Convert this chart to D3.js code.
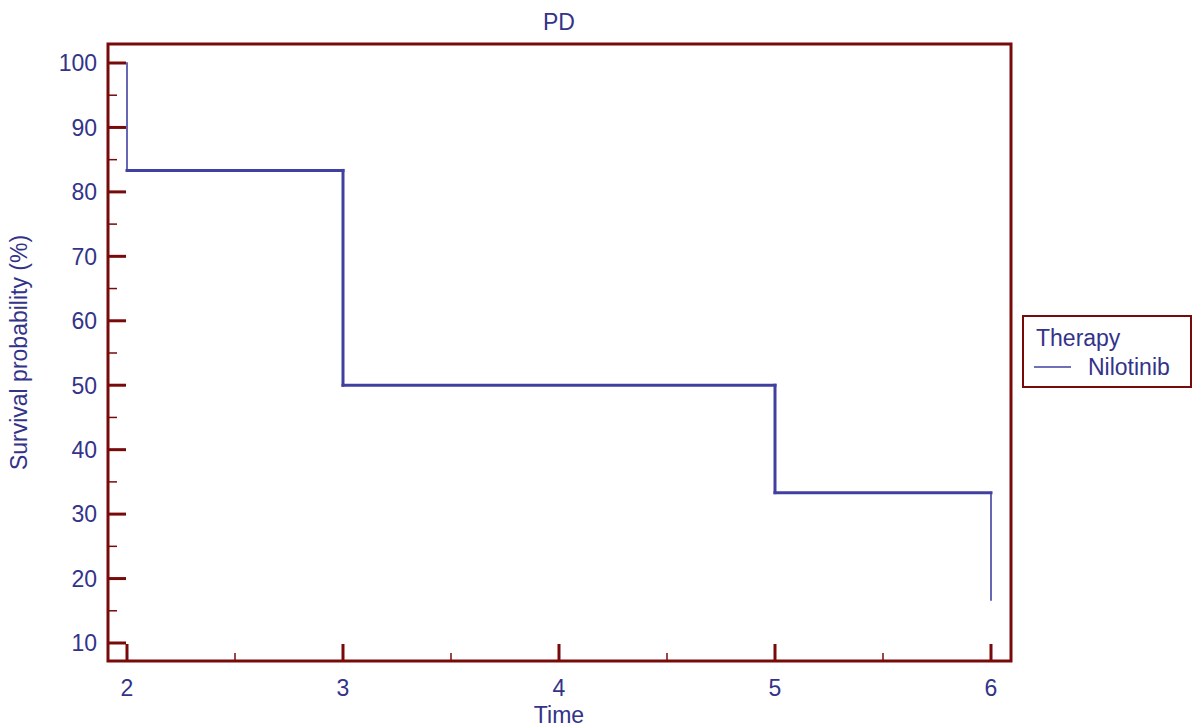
<!DOCTYPE html>
<html>
<head>
<meta charset="utf-8">
<script src="https://cdn.jsdelivr.net/npm/d3@7"></script>
<style>
  body { margin: 0; background: #fff; }
  svg { display: block; font-family: "Liberation Sans", Arial, sans-serif; }
</style>
</head>
<body>
<div id="chart"></div>
<script>
// Kaplan-Meier step data (time, survival %)
const times = [2, 2, 3, 5, 6];
const survival = [100, 83.33, 50, 33.33, 16.67];
const xTicks = [2, 3, 4, 5, 6];
const yTicks = [10, 20, 30, 40, 50, 60, 70, 80, 90, 100];
const seriesName = "Nilotinib";
const legendTitle = "Therapy";

const W = 1193, H = 728;
const frame = { left: 108, right: 1011, top: 44, bottom: 661 };
const frameColor = "#780a0a";
const textColor = "#33338a";
const lineColor = "#4040a0";
const fs = 23;

const svg = d3.select("#chart").append("svg")
  .attr("width", W).attr("height", H);

const x = d3.scaleLinear().domain([2, 6]).range([127, 991]);
const y = d3.scaleLinear().domain([10, 100]).range([643, 63]);

// build step segments
const segs = [];
for (let i = 1; i < times.length; i++) {
  if (times[i] !== times[i - 1]) {
    segs.push({ x1: times[i - 1], y1: survival[i - 1], x2: times[i], y2: survival[i - 1], thick: true });
  }
  const edge = (i === 1 || i === times.length - 1);
  segs.push({ x1: times[i], y1: survival[i - 1], x2: times[i], y2: survival[i], thick: !edge });
}

svg.append("g").selectAll("line").data(segs).join("line")
  .attr("x1", d => x(d.x1)).attr("x2", d => x(d.x2))
  .attr("y1", d => y(d.y1)).attr("y2", d => y(d.y2))
  .attr("stroke", lineColor)
  .attr("stroke-width", d => d.thick ? 3 : 1.6)
  .attr("stroke-linecap", "square");

// frame
svg.append("rect")
  .attr("x", frame.left).attr("y", frame.top)
  .attr("width", frame.right - frame.left).attr("height", frame.bottom - frame.top)
  .attr("fill", "none").attr("stroke", frameColor).attr("stroke-width", 3);

// y ticks (inward)
const yMinor = yTicks.map(v => v - 5).concat([105]).filter(v => y(v) > frame.top && y(v) < frame.bottom);
svg.append("g").selectAll("line.major").data(yTicks).join("line")
  .attr("x1", frame.left).attr("x2", frame.left + 18)
  .attr("y1", d => y(d)).attr("y2", d => y(d))
  .attr("stroke", frameColor).attr("stroke-width", 3);
svg.append("g").selectAll("line.minor").data(yMinor).join("line")
  .attr("x1", frame.left).attr("x2", frame.left + 9)
  .attr("y1", d => y(d)).attr("y2", d => y(d))
  .attr("stroke", frameColor).attr("stroke-width", 1.5);
svg.append("g").selectAll("text").data(yTicks).join("text")
  .attr("x", 97).attr("y", d => y(d))
  .attr("dy", "0.36em")
  .attr("text-anchor", "end")
  .attr("font-size", fs)
  .attr("fill", textColor)
  .text(d => d);

// x ticks (inward)
const xMinor = xTicks.slice(0, -1).map(v => v + 0.5);
svg.append("g").selectAll("line.major").data(xTicks).join("line")
  .attr("x1", d => x(d)).attr("x2", d => x(d))
  .attr("y1", frame.bottom).attr("y2", frame.bottom - 17)
  .attr("stroke", frameColor).attr("stroke-width", 3);
svg.append("g").selectAll("line.minor").data(xMinor).join("line")
  .attr("x1", d => x(d)).attr("x2", d => x(d))
  .attr("y1", frame.bottom).attr("y2", frame.bottom - 8)
  .attr("stroke", frameColor).attr("stroke-width", 1.5);
svg.append("g").selectAll("text").data(xTicks).join("text")
  .attr("x", d => x(d)).attr("y", 696)
  .attr("text-anchor", "middle")
  .attr("font-size", fs)
  .attr("fill", textColor)
  .text(d => d);

// titles
svg.append("text")
  .attr("x", 559).attr("y", 30)
  .attr("text-anchor", "middle").attr("font-size", fs).attr("fill", textColor)
  .text("PD");
svg.append("text")
  .attr("x", 559).attr("y", 723)
  .attr("text-anchor", "middle").attr("font-size", fs).attr("fill", textColor)
  .text("Time");
svg.append("text")
  .attr("transform", `translate(27,${(frame.top + frame.bottom) / 2}) rotate(-90)`)
  .attr("text-anchor", "middle").attr("font-size", fs).attr("fill", textColor)
  .text("Survival probability (%)");

// legend
const lg = svg.append("g");
lg.append("rect")
  .attr("x", 1023).attr("y", 316).attr("width", 168).attr("height", 71)
  .attr("fill", "#fff").attr("stroke", frameColor).attr("stroke-width", 2);
lg.append("text")
  .attr("x", 1036).attr("y", 346)
  .attr("font-size", fs).attr("fill", textColor)
  .text(legendTitle);
lg.append("line")
  .attr("x1", 1034).attr("x2", 1071).attr("y1", 367).attr("y2", 367)
  .attr("stroke", lineColor).attr("stroke-width", 1.6);
lg.append("text")
  .attr("x", 1088).attr("y", 375)
  .attr("font-size", fs).attr("fill", textColor)
  .text(seriesName);
</script>
</body>
</html>
